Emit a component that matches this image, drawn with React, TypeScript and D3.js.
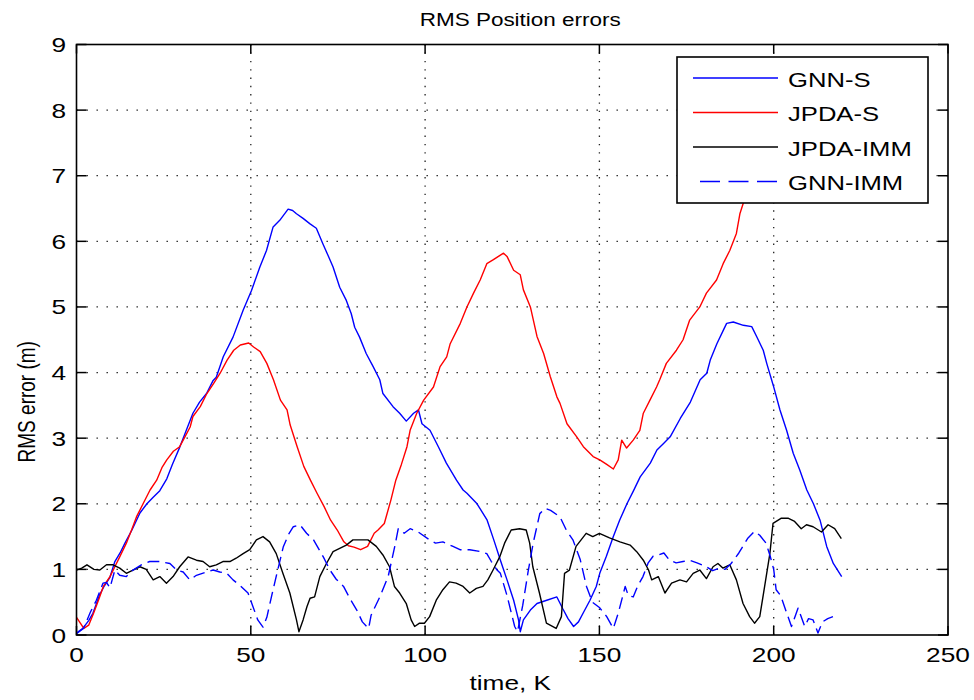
import React from "react";
import * as d3 from "d3";

// time, K  /  RMS error (m)
const gnnS: [number, number][] = [
  [0,0.03],[1.8,0.1],[3.5,0.22],[4.7,0.33],[6.7,0.62],[8,0.75],[9.6,0.88],[11,1.12],[12.5,1.25],[13.9,1.4],
  [15.9,1.6],[18.2,1.86],[20.2,2.0],[22,2.1],[23.9,2.2],[25.9,2.38],[27.5,2.6],[29.6,2.86],[31.5,3.12],[33.4,3.38],
  [35.3,3.55],[37.3,3.68],[39.2,3.88],[40.1,3.93],[42.1,4.24],[44.9,4.54],[47.8,4.95],[50.2,5.25],[52.6,5.61],[54.5,5.86],
  [56.4,6.22],[58.3,6.32],[60.7,6.49],[62,6.47],[63.1,6.42],[65,6.35],[66.9,6.27],[68.8,6.2],[70.7,5.96],[72.2,5.78],
  [73.6,5.61],[75.5,5.3],[77.4,5.1],[78.8,4.9],[79.8,4.69],[81.2,4.54],[83.1,4.29],[85.1,4.09],[87,3.89],[87.9,3.68],
  [90.8,3.48],[92.7,3.38],[94.6,3.26],[96.7,3.38],[98.1,3.43],[99.1,3.22],[101.4,3.12],[103.8,2.87],[106.1,2.62],[109,2.36],
  [110.9,2.21],[112,2.16],[114.9,2.0],[117.8,1.75],[119.7,1.45],[121.6,1.14],[123.5,0.84],[125.4,0.53],[126.8,0.23],[127.3,0.05],
  [128.2,0.23],[130.2,0.38],[132.1,0.48],[134.9,0.53],[137.8,0.58],[139.5,0.4],[141,0.25],[142.6,0.13],[144,0.2],[145.5,0.35],
  [147.3,0.53],[149.1,0.74],[150.1,0.94],[152,1.2],[154,1.5],[155.8,1.75],[157.9,2.0],[159.8,2.2],[161.7,2.41],[164.6,2.62],
  [166.5,2.82],[168.4,2.92],[170.3,3.02],[173.2,3.3],[176.1,3.55],[178.9,3.89],[180.8,3.99],[181.8,4.19],[183.7,4.44],[185.6,4.65],
  [186.5,4.75],[188.4,4.77],[191.3,4.72],[193.7,4.7],[195.1,4.55],[197,4.34],[198,4.14],[199.9,3.8],[201.8,3.43],[203.7,3.12],
  [205.6,2.77],[207.5,2.51],[209.5,2.21],[211.4,2.0],[213.3,1.75],[215.2,1.35],[217.1,1.09],[219.5,0.89]
];

const jpdaS: [number, number][] = [
  [0,0.27],[1.1,0.18],[2.1,0.1],[3.5,0.15],[4.9,0.33],[6.3,0.53],[7.7,0.74],[9.6,0.89],[11,1.04],[12.4,1.19],
  [14.3,1.4],[15.8,1.6],[17.2,1.8],[19.1,2.0],[21.1,2.21],[23,2.36],[24.5,2.55],[25.9,2.67],[27.8,2.8],[29.6,2.87],
  [31.1,3.02],[32.6,3.17],[33.4,3.33],[35.5,3.48],[37.4,3.68],[39.3,3.83],[41.2,3.99],[43.2,4.19],[45.1,4.34],[47,4.42],
  [49.4,4.45],[50.8,4.39],[52.7,4.32],[54.6,4.14],[56.5,3.89],[58.5,3.58],[60.4,3.43],[61.3,3.2],[63.3,2.87],[65.2,2.57],
  [67.1,2.36],[69,2.16],[71,1.96],[72.9,1.75],[74.8,1.6],[76.7,1.42],[78,1.36],[79.6,1.34],[81.5,1.3],[83.5,1.35],
  [85.4,1.55],[86.5,1.6],[88.3,1.7],[90.2,2.06],[91.6,2.36],[93.2,2.6],[94.8,2.87],[95.7,3.12],[97.6,3.38],[99.6,3.58],
  [102.4,3.78],[104.3,4.09],[106.2,4.24],[107.2,4.44],[110.1,4.75],[112,5.0],[113.9,5.21],[115.8,5.41],[117.7,5.66],[119.6,5.72],
  [121.6,5.79],[122.5,5.82],[123.5,5.77],[125.4,5.56],[127.3,5.49],[128.2,5.26],[130.2,5.0],[132.1,4.55],[134,4.29],[135.9,3.94],
  [137.8,3.63],[138.7,3.53],[140.7,3.22],[143.5,3.02],[145.4,2.87],[148.2,2.72],[150.1,2.67],[152.1,2.6],[154,2.53],[155.4,2.67],
  [156.4,2.97],[157.8,2.85],[159.7,2.97],[161.6,3.12],[162.6,3.38],[164.5,3.58],[166.4,3.78],[167.3,3.89],[169.2,4.14],[172.1,4.34],
  [174,4.5],[175.9,4.8],[178.8,5.0],[180.7,5.21],[183.6,5.41],[185.5,5.66],[187.4,5.86],[189.3,6.12],[190.3,6.42],[191.2,6.57],
  [193,6.9],[195,7.3]
];

const jpdaImm: [number, number][] = [
  [0,0.99],[1.5,1.02],[3,1.07],[5,1.0],[6.7,0.99],[8.6,1.07],[10.5,1.07],[12.4,1.02],[14.3,0.94],[16.2,0.99],
  [18.2,1.04],[20,1.0],[22,0.84],[23.9,0.89],[25.8,0.79],[27.7,0.89],[29.6,1.04],[32,1.19],[34.4,1.14],[36.3,1.12],
  [38.2,1.04],[40.1,1.07],[42,1.12],[44,1.12],[45.8,1.17],[47.8,1.24],[49.7,1.3],[51.6,1.45],[53.5,1.5],[55.4,1.42],
  [57.3,1.24],[59.2,0.94],[61.2,0.64],[63.1,0.23],[63.8,0.05],[65,0.23],[66.1,0.43],[67,0.56],[68.3,0.58],[69.8,0.89],
  [71.7,1.09],[73.6,1.27],[75.5,1.32],[77.4,1.37],[79.3,1.45],[83.6,1.45],[86,1.35],[87.9,1.22],[89.8,1.04],[91.2,0.74],
  [92.7,0.64],[94.6,0.48],[96,0.23],[97,0.13],[98.4,0.18],[99.8,0.18],[101.3,0.28],[103.2,0.53],[105.1,0.69],[107,0.81],
  [108.9,0.79],[110.9,0.74],[112.8,0.64],[114.7,0.71],[116.6,0.74],[118,0.84],[119.5,0.99],[121.4,1.19],[122.8,1.4],[124.7,1.6],
  [127.1,1.62],[129,1.6],[130,1.4],[130.9,1.04],[132.8,0.64],[134.8,0.18],[137.6,0.1],[139.1,0.28],[140,0.94],[141.4,0.99],
  [143.3,1.35],[146.2,1.55],[148.1,1.5],[150,1.55],[152.9,1.48],[155.9,1.42],[158.8,1.37],[160.7,1.27],[162.6,1.14],[164.1,0.99],
  [165,0.84],[166.9,0.89],[168.8,0.64],[170.7,0.79],[173.1,0.84],[175,0.81],[176.9,0.94],[178.8,0.99],[180.7,0.86],[182.6,1.04],
  [184,1.09],[185.4,1.02],[187.4,1.07],[189.3,0.84],[191.2,0.48],[193.1,0.28],[194.5,0.18],[196,0.28],[197.4,0.74],[198.9,1.24],
  [199.8,1.7],[202.2,1.78],[204.1,1.78],[206,1.73],[207.9,1.62],[209.4,1.68],[211.3,1.65],[213.7,1.57],[215.6,1.68],[217.5,1.62],
  [219.4,1.47]
];

const gnnImm: [number, number][] = [
  [0,0.02],[2,0.1],[4,0.35],[5.7,0.53],[7.6,0.79],[8.6,0.8],[9.6,0.72],[11,0.99],[12.4,0.91],[14.3,0.89],
  [16.2,0.99],[18.6,1.07],[21,1.12],[23.9,1.12],[26.8,1.09],[28.7,0.99],[30.6,0.96],[32.5,0.84],[34.4,0.91],[37.3,0.96],
  [39.2,0.99],[41.1,0.96],[43.1,0.94],[44.9,0.84],[47,0.75],[49.2,0.64],[50.5,0.45],[52,0.23],[53.5,0.12],[54.6,0.27],
  [56,0.6],[57.5,0.94],[59.3,1.34],[61,1.55],[62.2,1.65],[64.1,1.68],[66,1.55],[68,1.45],[70.8,1.19],[72.7,0.99],
  [74.5,0.85],[76.6,0.74],[78.5,0.55],[80.4,0.38],[82,0.2],[83.8,0.1],[84.5,0.3],[87,0.58],[89.4,0.89],[91.3,1.35],
  [92.3,1.62],[94,1.55],[95.7,1.62],[98,1.57],[101.3,1.45],[103,1.4],[105.1,1.42],[108,1.35],[110,1.3],[112.8,1.3],
  [116,1.27],[117.7,1.24],[119,1.12],[120.5,1.0],[121.6,0.94],[123.5,0.6],[125.7,0.13],[126.5,0.05],[128,0.45],[129.5,0.95],
  [131,1.4],[132.9,1.85],[134.5,1.93],[136,1.9],[138.7,1.8],[140.5,1.6],[142.4,1.45],[144.5,1.15],[146.3,0.74],[148,0.5],
  [150,0.42],[152.1,0.28],[154,0.1],[155.5,0.35],[157.4,0.74],[158.3,0.6],[159.7,0.58],[161,0.75],[162.5,0.89],[164,1.1],
  [165.4,1.2],[167,1.22],[168.5,1.25],[170.1,1.14],[172,1.1],[174,1.12],[175.9,1.14],[178,1.1],[180.7,1.04],[182.5,0.98],
  [184.5,1.02],[186,1.0],[187.8,1.09],[190,1.25],[192.5,1.47],[194.5,1.58],[196,1.52],[197.8,1.4],[199,1.2],[200,1.0],
  [200.7,0.69],[202,0.6],[203.1,0.43],[205.1,0.13],[207,0.41],[208.9,0.13],[210,0.25],[211.3,0.23],[212.7,0.03],[214,0.2],
  [215.5,0.25],[217,0.28]
];

const xTicks = [0, 50, 100, 150, 200, 250];
const yTicks = [0, 1, 2, 3, 4, 5, 6, 7, 8, 9];
const legendLabels = ["GNN-S", "JPDA-S", "JPDA-IMM", "GNN-IMM"];
const titleText = "RMS Position errors";
const xLabel = "time, K";
const yLabel = "RMS error (m)";

const W = 974, H = 700;
const L = 76.5, R = 948, T = 44.5, B = 635;
const FONT = "'Liberation Sans', Arial, Helvetica, sans-serif";
const SX = 1.25;

export default function App() {
  const x = d3.scaleLinear().domain([0, 250]).range([L, R]);
  const y = d3.scaleLinear().domain([0, 9]).range([B, T]);
  const line = d3.line<[number, number]>().x(d => x(d[0])).y(d => y(d[1]));

  const series = [
    { data: gnnS, color: "#0000ff", dash: undefined as string | undefined, legDash: undefined as string | undefined },
    { data: jpdaS, color: "#ff0000", dash: undefined, legDash: undefined },
    { data: jpdaImm, color: "#000000", dash: undefined, legDash: undefined },
    { data: gnnImm, color: "#0000ff", dash: "12,6", legDash: "20,8.5" },
  ];

  const legX = 677, legY = 57, legW = 251, legH = 146;
  const rowY = [78, 112.5, 147, 181.5];

  return (
    <svg width={W} height={H} style={{ position: "absolute", left: 0, top: 0, background: "#fff" }} fontFamily={FONT}>
      <rect x={0} y={0} width={W} height={H} fill="#fff" />
      <defs>
        <clipPath id="plotclip">
          <rect x={L} y={T} width={R - L} height={B - T} />
        </clipPath>
      </defs>
      {/* grid */}
      {xTicks.slice(1, -1).map(t => (
        <line key={"gx" + t} x1={x(t)} x2={x(t)} y1={B} y2={T} stroke="#222" strokeWidth={1.3} strokeDasharray="1.4,6.9" />
      ))}
      {yTicks.slice(1, -1).map(t => (
        <line key={"gy" + t} x1={L} x2={R} y1={y(t)} y2={y(t)} stroke="#222" strokeWidth={1.3} strokeDasharray="1.4,8.6" />
      ))}
      {/* ticks */}
      {xTicks.map(t => (
        <g key={"tx" + t}>
          <line x1={x(t)} x2={x(t)} y1={B} y2={B - 9} stroke="#000" strokeWidth={1.5} />
          <line x1={x(t)} x2={x(t)} y1={T} y2={T + 9} stroke="#000" strokeWidth={1.5} />
          <text transform={`translate(${x(t)},662) scale(${SX},1)`} textAnchor="middle" fontSize={21} fill="#000">{t}</text>
        </g>
      ))}
      {yTicks.map(t => (
        <g key={"ty" + t}>
          <line x1={L} x2={L + 10} y1={y(t)} y2={y(t)} stroke="#000" strokeWidth={1.5} />
          <line x1={R} x2={R - 10} y1={y(t)} y2={y(t)} stroke="#000" strokeWidth={1.5} />
          <text transform={`translate(66,${y(t) + 7.5}) scale(${SX},1)`} textAnchor="end" fontSize={21} fill="#000">{t}</text>
        </g>
      ))}
      {/* data */}
      <g clipPath="url(#plotclip)">
        {series.map((s, i) => (
          <path key={"s" + i} d={line(s.data) || ""} fill="none" stroke={s.color} strokeWidth={1.4}
            strokeDasharray={s.dash} strokeLinejoin="round" />
        ))}
      </g>
      {/* frame */}
      <rect x={L} y={T} width={R - L} height={B - T} fill="none" stroke="#000" strokeWidth={1.6} />
      {/* legend */}
      <rect x={legX} y={legY} width={legW} height={legH} fill="#fff" stroke="#000" strokeWidth={1.6} />
      {series.map((s, i) => (
        <g key={"lg" + i}>
          <line x1={s.legDash ? 700 : 693} x2={778} y1={rowY[i]} y2={rowY[i]} stroke={s.color} strokeWidth={1.5}
            strokeDasharray={s.legDash} />
          <text transform={`translate(788,${rowY[i] + 8.5}) scale(${SX},1)`} fontSize={20.5} fill="#000">{legendLabels[i]}</text>
        </g>
      ))}
      {/* labels */}
      <text transform={`translate(${(L + R) / 2 + 8},26) scale(${SX},1)`} textAnchor="middle" fontSize={18} fill="#000">{titleText}</text>
      <text transform={`translate(${(L + R) / 2 - 2},690) scale(${SX},1)`} textAnchor="middle" fontSize={21} fill="#000">{xLabel}</text>
      <text transform={`translate(35,${(T + B) / 2 + 62}) rotate(-90) scale(1,${SX})`} textAnchor="middle" fontSize={19} fill="#000">{yLabel}</text>
    </svg>
  );
}
